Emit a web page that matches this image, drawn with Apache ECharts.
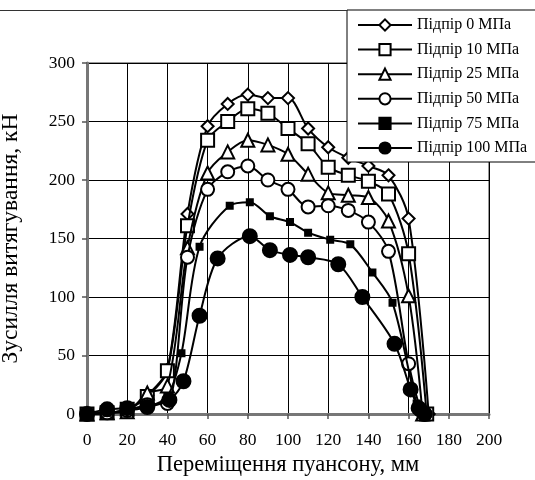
<!DOCTYPE html>
<html><head><meta charset="utf-8">
<script src="https://cdn.jsdelivr.net/npm/echarts@6/dist/echarts.min.js"></script>
<style>html,body{margin:0;padding:0;background:#fff}#c{width:535px;height:480px}</style>
</head><body><div id="c"></div>
<script>
const seriesNames = ['Підпір 0 МПа','Підпір 10 МПа','Підпір 25 МПа','Підпір 50 МПа','Підпір 75 МПа','Підпір 100 МПа'];
const xTicks = [0,20,40,60,80,100,120,140,160,180,200];
const yTicks = [0,50,100,150,200,250,300];
const s0 = [[0,0],[10,1],[20,4],[30,16],[40,38],[50,171],[60,246],[70,265],[80,273],[90,270],[100,270],[110,244],[120,228],[130,219],[140,212],[150,204],[160,167],[170,0]];
const s10 = [[0,0],[10,1],[20,4],[30,15],[40,37],[50,161],[60,234],[70,250],[80,261],[90,257],[100,244],[110,231],[120,211],[130,204],[140,199],[150,188],[160,137],[169,0]];
const s25 = [[0,0],[10,1],[20,2],[30,18],[40,24],[50,142],[60,206],[70,224],[80,234],[90,230],[100,222],[110,205],[120,189],[130,187],[140,185],[150,165],[160,101],[167,0]];
const s50 = [[0,0],[10,1],[20,3],[30,8],[40,9],[50,134],[60,192],[70,207],[80,212],[90,200],[100,192],[110,177],[120,178],[130,174],[140,164],[150,139],[160,43],[166,3],[168,0]];
const s75 = [[0,0],[10,1],[20,3],[30,6],[40,15],[47,52],[56,143],[71,178],[81,181],[91,169],[101,164],[110,155],[121,149],[131,145],[142,121],[152,95],[164,9],[168,0]];
const s100 = [[0,0],[10,4],[20,5],[30,6],[41,12],[48,28],[56,84],[65,133],[81,152],[91,140],[101,136],[110,134],[125,128],[137,100],[153,60],[161,21],[165,5],[168,0]];

const datasets = [s0,s10,s25,s50,s75,s100];
const symbols = ['path://M0,-1L1,0L0,1L-1,0Z','rect','triangle','circle','rect','circle'];
const sizes = [12,13,13,13,6,14];
const fills = ['#fff','#fff','#fff','#fff','#000','#000'];
const FONT = '"Liberation Serif","Times New Roman",serif';

const chart = echarts.init(document.getElementById('c'), null, {renderer:'canvas'});
chart.setOption({
  animation:false,
  backgroundColor:'#fff',
  graphic:[{type:'line',shape:{x1:0,y1:10.5,x2:347,y2:10.5},style:{stroke:'#333',lineWidth:1},z:100}],
  legend:{
    left:347, top:10,
    orient:'vertical',
    padding:[7,40,6,10],
    itemWidth:54, itemHeight:14, itemGap:8.6,
    borderColor:'#000', borderWidth:1, backgroundColor:'#fff',
    textStyle:{fontFamily:FONT,fontSize:16,color:'#000'},
    data:seriesNames
  },
  grid:{left:87,right:46,top:63,bottom:66,show:true,borderColor:'#999',borderWidth:2,outerBoundsMode:'none',containLabel:false},
  xAxis:{
    type:'value',min:0,max:200,interval:20,
    name:'Переміщення пуансону, мм',nameLocation:'middle',nameGap:40,
    nameTextStyle:{fontFamily:FONT,fontSize:22.5,color:'#000'},
    axisLine:{show:true,onZero:false,lineStyle:{color:'#777',width:3}},
    axisTick:{show:true,inside:false,length:5,lineStyle:{color:'#555',width:1.5}},
    axisLabel:{fontFamily:FONT,fontSize:17.5,color:'#000',margin:17},
    splitLine:{show:true,lineStyle:{color:'#000',width:1}}
  },
  yAxis:{
    type:'value',min:0,max:300,interval:50,
    name:'Зусилля витягування, кН',nameLocation:'middle',nameGap:64,
    nameTextStyle:{fontFamily:FONT,fontSize:23.5,color:'#000'},
    axisLine:{show:true,lineStyle:{color:'#777',width:3}},
    axisTick:{show:true,inside:false,length:5,lineStyle:{color:'#555',width:1.5}},
    axisLabel:{fontFamily:FONT,fontSize:17.5,color:'#000',margin:12},
    splitLine:{show:true,lineStyle:{color:'#000',width:1}}
  },
  series: datasets.map((d,i)=>({
    name:seriesNames[i], type:'line', data:d, smooth:0.3,
    symbol:symbols[i], symbolSize:sizes[i], showAllSymbol:true,
    lineStyle:{color:'#000',width:2},
    itemStyle:{color:fills[i],borderColor:'#000',borderWidth:2},
    z:2+i
  }))
});
</script></body></html>
